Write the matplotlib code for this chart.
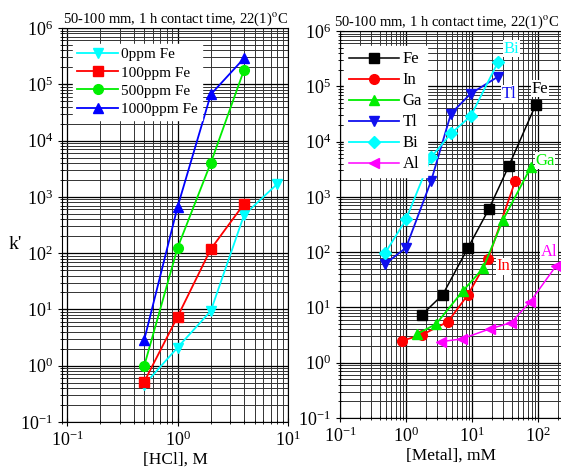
import numpy as np
import matplotlib.pyplot as plt
from matplotlib.ticker import NullFormatter

plt.rcParams['font.family'] = ['Liberation Serif', 'DejaVu Serif']
plt.rcParams['mathtext.fontset'] = 'stix'

# lewy wykres: k' vs [HCl]
hcl = [0.5, 1, 2, 4, 8]
k_0ppm = [0.46, 2.1, 9.4, 475, 1700]
k_100ppm = [0.52, 7.4, 118, 750]
k_500ppm = [1.0, 124, 4000, 1.8e5]
k_1000ppm = [2.9, 660, 6.6e4, 2.9e5]

# prawy wykres: k' vs [Metal]
fe_x = [1.75, 3.6, 8.7, 18, 36, 92]
fe_k = [7.4, 17, 120, 600, 3600, 4.6e4]
in_x = [0.87, 1.75, 4.3, 8.7, 17.5, 45]
in_k = [2.5, 3.2, 5.5, 17, 75, 1900]
ga_x = [1.47, 2.85, 7.3, 14.7, 29.4, 78]
ga_k = [3.3, 5.0, 20, 51, 380, 3450]
tl_x = [0.48, 1.0, 2.4, 4.8, 9.6, 25]
tl_k = [61, 120, 1940, 3.2e4, 7.4e4, 1.5e5]
bi_x = [0.48, 1.0, 2.4, 4.8, 9.6, 25]
bi_k = [95, 390, 5200, 1.4e4, 2.9e4, 2.8e5]
al_x = [3.4, 7.0, 18.7, 39, 76, 187]
al_k = [2.4, 2.7, 4.1, 5.3, 12.6, 56]

title = '50-100 mm, 1 h contact time, 22(1)$^{\\rm o}$C'

fig = plt.figure(figsize=(5.61, 4.75), dpi=100)
ax1 = fig.add_axes([62/561, 1-422/475, (288-62)/561, (422-28)/475])
ax2 = fig.add_axes([340/561, 1-418/475, (561-340)/561, (418-31)/475])


def style(ax):
    ax.set_xscale('log')
    ax.set_yscale('log')
    ax.set_ylim(0.1, 1e6)
    ax.xaxis.set_minor_formatter(NullFormatter())
    ax.yaxis.set_minor_formatter(NullFormatter())
    ax.grid(True, which='major', color='black', lw=0.9)
    ax.grid(True, which='minor', color='#333333', lw=0.7)
    ax.tick_params(which='both', direction='inout', labelsize=13, top=False, right=False)
    ax.tick_params(which='major', length=6)
    ax.tick_params(which='minor', length=3)


ms = 7
ax1.plot(hcl, k_0ppm, color='cyan', marker='v', ms=ms, lw=1.3, label='0ppm Fe')
ax1.plot(hcl[:4], k_100ppm, color='red', marker='s', ms=ms, lw=1.3, label='100ppm Fe')
ax1.plot(hcl[:4], k_500ppm, color='#00ee00', marker='o', ms=ms, lw=1.3, label='500ppm Fe')
ax1.plot(hcl[:4], k_1000ppm, color='blue', marker='^', ms=ms, lw=1.3, label='1000ppm Fe')
style(ax1)
ax1.set_title(title, fontsize=10.5, pad=4)
ax1.set_xlim(0.09, 10)
ax1.set_xlabel('[HCl], M', fontsize=12.5, labelpad=1)
ax1.set_ylabel("k'", fontsize=14, rotation=0)
ax1.yaxis.set_label_coords(-0.205, 0.43)
leg1 = ax1.legend(loc='upper left', bbox_to_anchor=(0.05, 0.96), fontsize=11, frameon=True,
                  fancybox=False, handlelength=2.7, borderpad=0.25, labelspacing=0.3,
                  handletextpad=0.2, borderaxespad=0)
leg1.get_frame().set_edgecolor('white')
leg1.get_frame().set_alpha(1)

ax2.plot(fe_x, fe_k, color='black', marker='s', ms=ms, lw=1.1, label='Fe')
ax2.plot(in_x, in_k, color='red', marker='o', ms=ms, lw=1.3, label='In')
ax2.plot(ga_x, ga_k, color='#00ee00', marker='^', ms=ms, lw=1.3, label='Ga')
ax2.plot(tl_x, tl_k, color='#1010ee', marker='v', ms=ms, lw=1.3, label='Tl')
ax2.plot(bi_x, bi_k, color='cyan', marker='D', ms=6, lw=1.3, label='Bi')
ax2.plot(al_x, al_k, color='magenta', marker='<', ms=ms, lw=1.1, label='Al')
style(ax2)
ax2.set_title(title, fontsize=10.5, pad=4, x=0.48)
ax2.set_xlim(0.1, 223)
ax2.spines['right'].set_visible(False)
ax2.set_xlabel('[Metal], mM', fontsize=12.5, labelpad=1)
leg2 = ax2.legend(loc='upper left', bbox_to_anchor=(0.02, 0.96), fontsize=12, frameon=True,
                  fancybox=False, handlelength=3.0, borderpad=0.3, labelspacing=0.3,
                  handletextpad=0.2, borderaxespad=0)
leg2.get_frame().set_edgecolor('white')
leg2.get_frame().set_alpha(1)

box = dict(facecolor='white', edgecolor='none', pad=0.5)
ax2.text(40, 4.8e5, 'Bi', color='cyan', fontsize=12, ha='center', va='center', bbox=box)
ax2.text(37, 7.3e4, 'Tl', color='#1010ee', fontsize=12, ha='center', va='center', bbox=box)
ax2.text(107, 9e4, 'Fe', color='black', fontsize=12, ha='center', va='center', bbox=box)
ax2.text(127, 4500, 'Ga', color='#00ee00', fontsize=12, ha='center', va='center', bbox=box)
ax2.text(30, 55, 'In', color='red', fontsize=12, ha='center', va='center', bbox=box)
ax2.text(147, 100, 'Al', color='magenta', fontsize=12, ha='center', va='center', bbox=box)

fig.savefig('out.png', dpi=100)
